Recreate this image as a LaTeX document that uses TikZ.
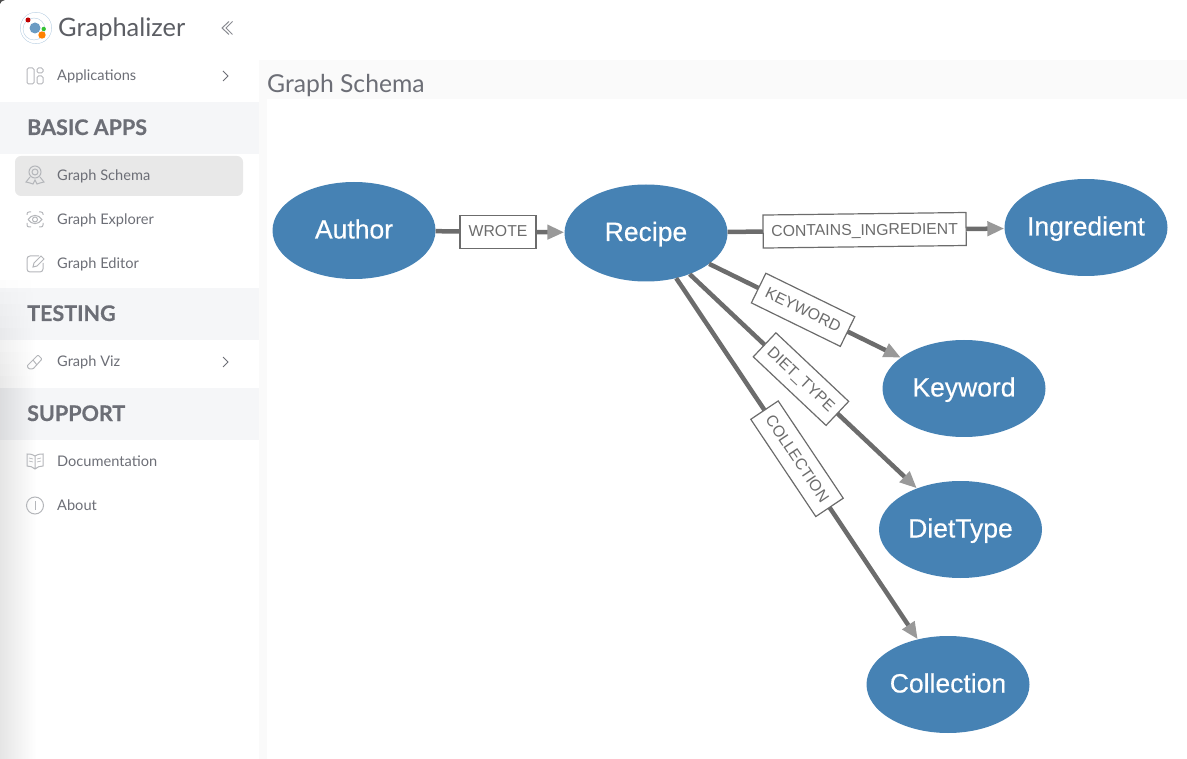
\documentclass[tikz,border=0pt]{standalone}
\usepackage{fontspec}
\setmainfont{Lato}
\newfontfamily\graphfont{Liberation Sans}
\usetikzlibrary{arrows.meta}
\usetikzlibrary{shapes.geometric}
\usetikzlibrary{fadings}
\definecolor{sidetext}{HTML}{6C6E76}
\definecolor{bandfill}{HTML}{F5F6F8}
\definecolor{nodeblue}{HTML}{4682B4}
\definecolor{edgegray}{HTML}{6C6C6C}
\definecolor{tipgray}{HTML}{999999}
\definecolor{icongray}{HTML}{B4B6BA}
\tikzset{
  entity/.style={ellipse,fill=nodeblue,text=white,minimum width=163,minimum height=97,inner sep=-8,text height=16,text depth=0,font=\graphfont\fontsize{26.5}{26.5}\selectfont\addfontfeature{FakeBold=0.4}},
  relation/.style={line width=4.5,color=edgegray,-{Triangle[length=17,width=14,color=tipgray]}},
  relname/.style={draw=edgegray,line width=1.2,fill=white,text=edgegray,inner sep=0,minimum height=33,text height=10,text depth=0,font=\graphfont\fontsize{15.8}{16}\selectfont},
  menuitem/.style={text=sidetext,anchor=base west,inner sep=0,font=\fontsize{14.6}{14}\selectfont},
  section/.style={text=sidetext,anchor=base west,inner sep=0,font=\bfseries\fontsize{21.5}{20}\selectfont\addfontfeature{FakeBold=0.5}},
  icon/.style={draw=icongray,line width=1,fill=none},
}
\begin{document}
\begin{tikzpicture}[x=1pt,y=-1pt]
\useasboundingbox (0,0) rectangle (1187,759);

%%%%%%%%%%%%%%%%%%%%%%%%
%Sidebar
%%%%%%%%%%%%%%%%%%%%%%%%
% bands
\foreach \y in {102,288,388}{\fill[bandfill] (0,\y) rectangle (259,\y+52);}
% selected item
\fill[black!9,rounded corners=6] (15,156) rectangle (243,196);
% header of the page and strip next to the sidebar
\fill[black!2] (259,60) rectangle (1187,99);
\fill[black!2] (259,99) rectangle (267,759);
% shadow on the left edge, it comes in gradually
\foreach \y/\o in {280/0.01,292/0.02,304/0.03,316/0.04,328/0.05,340/0.06,352/0.07,364/0.08,376/0.09,388/0.10}{
  \fill[black,opacity=\o,path fading=east] (0,\y) rectangle (36,\y+12);}
\fill[black,opacity=0.10,path fading=east] (0,400) rectangle (36,759);
\fill[black!70] (0,0) -- (5,0) .. controls (2,0.5) and (0.5,2) .. (0,4) -- cycle;

\node[anchor=base west,inner sep=0,text=sidetext!85!black,font=\fontsize{25.4}{24}\selectfont] (brand) at (58,37) {Graphalizer};
\node[anchor=base west,inner sep=0,text=sidetext,font=\fontsize{24.7}{24}\selectfont] (title) at (267,93) {Graph Schema};

\node[section] (basic) at (27,135) {BASIC APPS};
\node[section] (testing) at (27,321) {TESTING};
\node[section] (support) at (27,421) {SUPPORT};

\node[menuitem] (applications) at (57,80.7) {Applications};
\node[menuitem] (schema) at (57,180.7) {Graph Schema};
\node[menuitem] (explorer) at (57,224.7) {Graph Explorer};
\node[menuitem] (editor) at (57,268.7) {Graph Editor};
\node[menuitem] (viz) at (57,366.7) {Graph Viz};
\node[menuitem] (documentation) at (57,466.7) {Documentation};
\node[menuitem] (about) at (57,510.7) {About};

% logo
\draw[nodeblue!40] (36,28) circle (15.7);
\draw[nodeblue!40] (34,29) circle (11);
\fill[nodeblue!80] (35,28) circle (5.5);
\fill[red!75!black] (28,20) circle (2.5);
\fill[orange] (42,35) circle (3.7);
\fill[green!70!black!80] (43.7,29) circle (2.2);

% chevrons
\draw[sidetext!80,line width=1] (229,21.5) -- (222,28) -- (229,34.5) (232.5,21.5) -- (226,28) -- (232.5,34.5);
\foreach \y in {76,362}{\draw[sidetext,line width=1] (223,\y-5) -- (228,\y) -- (223,\y+5);}

% icons
\draw[icon,rounded corners=1.5] (27,68) rectangle (34,84);
\draw[icon,rounded corners=1.5] (37,68) rectangle (43,73);
\draw[icon,rounded corners=1.5] (37,76) rectangle (43,84);

\draw[icon] (35,172) circle (6) (35,172) circle (3);
\draw[icon] (30,177) -- (26,182) -- (30,183) -- (33,184) -- (35,180) -- (37,184) -- (40,183) -- (44,182) -- (40,177);

\draw[icon,rounded corners=2] (27,215) -- (27,212) -- (31,212) (39,212) -- (43,212) -- (43,215) (43,223) -- (43,227) -- (39,227) (31,227) -- (27,227) -- (27,223);
\draw[icon] (28,219.5) .. controls (32,214) and (38,214) .. (42,219.5) .. controls (38,225) and (32,225) .. (28,219.5);
\draw[icon] (35,219.5) circle (2.5);

\draw[icon,rounded corners=3] (39,256) -- (27,256) -- (27,272) -- (43,272) -- (43,263);
\draw[icon] (33,267) -- (34,263) -- (41,256) -- (44,259) -- (37,266) -- cycle;

\draw[icon,rounded corners=1] (27,366) -- (38,355) -- (42,359) -- (33,369) -- (29,369) -- cycle;
\draw[icon] (33,360) -- (37,365);

\draw[icon] (35,456) .. controls (32,454) and (29,454) .. (27,454) -- (27,466) .. controls (30,466) and (33,467) .. (35,469) .. controls (37,467) and (40,466) .. (43,466) -- (43,454) .. controls (41,454) and (38,454) .. (35,456) -- (35,469);
\draw[icon,line width=0.7] (29,458) -- (33,459) (29,461) -- (33,462) (37,459) -- (41,458) (37,462) -- (41,461);

\draw[icon] (35,505.5) circle (8.5);
\draw[icon] (35,501) -- (35,510);

%%%%%%%%%%%%%%%%%%%%%%%%
%Schema
%%%%%%%%%%%%%%%%%%%%%%%%
\node[entity] (author) at (354,230.5) {Author};
\node[entity] (recipe) at (646,233) {Recipe};
\node[entity] (ingredient) at (1086,227.5) {Ingredient};
\node[entity] (keyword) at (964,388.5) {Keyword};
\node[entity] (diettype) at (960.5,529.5) {DietType};
\node[entity] (collection) at (948,684.5) {Collection};

\draw[relation] (author) -- node[relname,pos=0.485,minimum width=76] (wrote) {WROTE} (recipe);
\draw[relation] (recipe) -- node[relname,pos=0.495,sloped,minimum width=203] (contains) {CONTAINS\_INGREDIENT} (ingredient);
\draw[relation] (recipe) -- node[relname,pos=0.49,sloped,minimum width=99] (kw) {KEYWORD} (keyword);
\draw[relation] (recipe) -- node[relname,pos=0.49,sloped,minimum width=100] (dt) {DIET\_TYPE} (diettype);
\draw[relation] (recipe) -- node[relname,pos=0.5,sloped,minimum width=117] (coll) {COLLECTION} (collection);

\end{tikzpicture}
\end{document}
